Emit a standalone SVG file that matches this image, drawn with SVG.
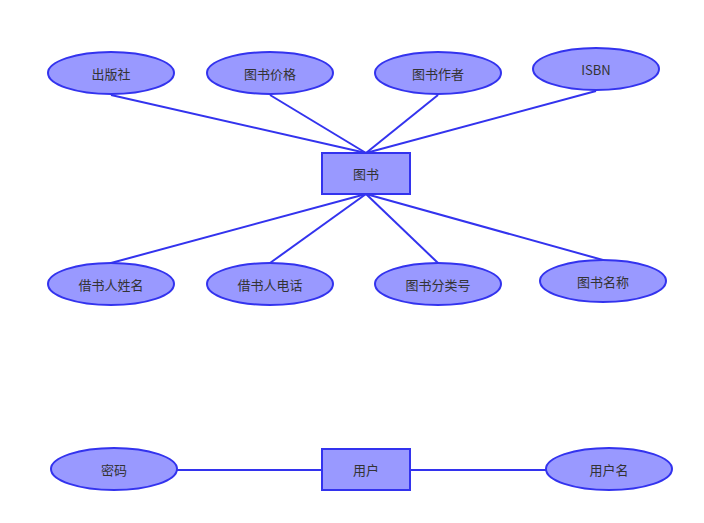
<svg xmlns="http://www.w3.org/2000/svg" width="704" height="523" viewBox="0 0 704 523">
<style>
.n{fill:#9999ff;stroke:#3333ee;stroke-width:2}
.c line{stroke:#3333ee;stroke-width:2}
text{font-family:"Noto Sans CJK SC","Noto Sans",sans-serif;font-size:13px;fill:#333;text-anchor:middle;dominant-baseline:central}
</style>
<rect width="704" height="523" fill="#fff"/>
<g class="c">
<line x1="111" y1="95" x2="366" y2="153"/>
<line x1="270" y1="95" x2="366" y2="153"/>
<line x1="438" y1="95" x2="366" y2="153"/>
<line x1="596" y1="91" x2="366" y2="153"/>
<line x1="366" y1="194" x2="111" y2="263"/>
<line x1="366" y1="194" x2="270" y2="263"/>
<line x1="366" y1="194" x2="438" y2="263"/>
<line x1="366" y1="194" x2="603" y2="260"/>
<line x1="177" y1="470" x2="322" y2="470"/>
<line x1="410" y1="470" x2="546" y2="470"/>
</g>
<g id="book"><rect class="n" x="322" y="153" width="88" height="41"/><text x="366" y="173">图书</text></g>
<g id="user"><rect class="n" x="322" y="449" width="88" height="41"/><text x="366" y="469">用户</text></g>
<g id="e1"><ellipse class="n" cx="111" cy="73" rx="63" ry="21"/><text x="111" y="73">出版社</text></g>
<g id="e2"><ellipse class="n" cx="270" cy="73" rx="63" ry="21"/><text x="270" y="73">图书价格</text></g>
<g id="e3"><ellipse class="n" cx="438" cy="73" rx="63" ry="21"/><text x="438" y="73">图书作者</text></g>
<g id="e4"><ellipse class="n" cx="596" cy="69" rx="63" ry="21"/><text x="596" y="69">ISBN</text></g>
<g id="e5"><ellipse class="n" cx="111" cy="284" rx="63" ry="21"/><text x="111" y="284">借书人姓名</text></g>
<g id="e6"><ellipse class="n" cx="270" cy="284" rx="63" ry="21"/><text x="270" y="284">借书人电话</text></g>
<g id="e7"><ellipse class="n" cx="438" cy="284" rx="63" ry="21"/><text x="438" y="284">图书分类号</text></g>
<g id="e8"><ellipse class="n" cx="603" cy="281" rx="63" ry="21"/><text x="603" y="281">图书名称</text></g>
<g id="e9"><ellipse class="n" cx="114" cy="469" rx="63" ry="21"/><text x="114" y="469">密码</text></g>
<g id="e10"><ellipse class="n" cx="609" cy="469" rx="63" ry="21"/><text x="609" y="469">用户名</text></g>
</svg>
